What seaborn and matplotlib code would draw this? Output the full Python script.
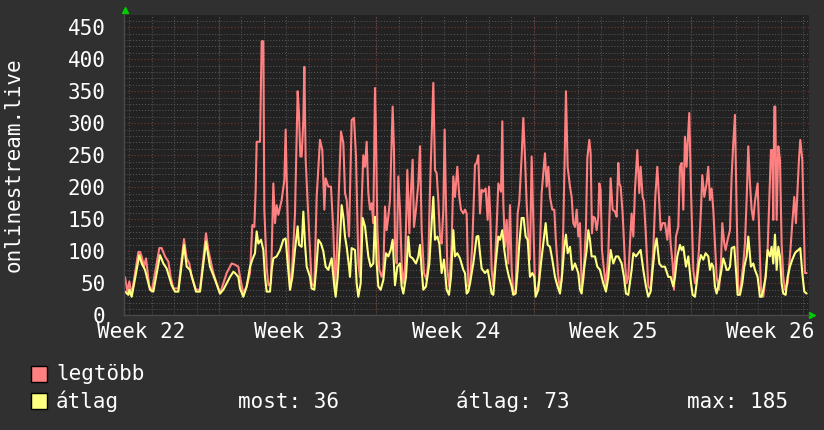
import matplotlib
matplotlib.use('Agg')
import matplotlib.pyplot as plt
import seaborn as sns
from matplotlib.patches import Rectangle
from matplotlib.ticker import MultipleLocator, FixedLocator

# napok (0 = bal szél), értékek
max_days = [0.067, 0.170, 0.259, 0.363, 0.660, 0.734, 0.808, 0.912, 1.001, 1.149, 1.253, 1.595, 1.698, 1.847, 1.995,
            2.099, 2.218, 2.440, 2.692, 2.811, 2.930, 3.034, 3.226, 3.404, 3.671, 3.775, 3.998, 4.146, 4.295, 4.591, 4.814,
            4.962, 5.110, 5.185, 5.333, 5.481, 5.630, 5.733, 5.822, 5.882, 5.926, 6.075, 6.149, 6.223, 6.267, 6.371,
            6.446, 6.564, 6.668, 6.742, 6.816, 6.891, 7.039, 7.158, 7.217, 7.261, 7.336, 7.410, 7.484, 7.632, 7.751,
            7.810, 7.870, 7.929, 8.003, 8.048, 8.107, 8.196, 8.300, 8.374, 8.493, 8.597, 8.745, 8.849, 8.938, 8.997,
            9.116, 9.234, 9.338, 9.413, 9.487, 9.591, 9.680, 9.784, 9.858, 9.932, 10.036,
            10.154, 10.258, 10.347, 10.451, 10.525, 10.599, 10.673, 10.748, 10.822, 10.896, 10.970, 11.044, 11.118,
            11.193, 11.237, 11.296, 11.385, 11.489, 11.564, 11.638, 11.712, 11.786, 11.860, 11.979, 12.038, 12.083,
            12.157, 12.231, 12.305, 12.379, 12.454, 12.528, 12.632, 12.721, 12.780, 12.869, 12.928, 13.017, 13.121,
            13.195, 13.270, 13.373, 13.492, 13.566, 13.640, 13.715, 13.789, 13.863, 13.937, 14.011, 14.085, 14.160,
            14.234, 14.293, 14.352, 14.412, 14.501, 14.605, 14.679, 14.753, 14.857, 14.946, 15.020, 15.124,
            15.198, 15.272, 15.346, 15.421, 15.524, 15.643, 15.717, 15.791, 15.866, 15.940, 16.014, 16.118, 16.207,
            16.266, 16.325, 16.385, 16.459, 16.533, 16.607, 16.682, 16.800, 16.860, 16.904, 16.978, 17.052, 17.127,
            17.201, 17.275, 17.349, 17.453, 17.542, 17.616, 17.720, 17.794, 17.868, 17.942, 18.017, 18.091, 18.165,
            18.239, 18.313, 18.388, 18.491, 18.610, 18.684, 18.758, 18.833, 18.907, 18.981, 19.085, 19.174, 19.233,
            19.352, 19.426, 19.500, 19.574, 19.649, 19.693, 19.767, 19.871, 19.945, 20.019, 20.094, 20.168, 20.242,
            20.316, 20.390, 20.464, 20.583, 20.642, 20.731, 20.791, 20.850, 20.909, 20.984, 21.058, 21.132, 21.176,
            21.236, 21.295, 21.384, 21.473, 21.577, 21.681, 21.770, 21.874, 21.948, 22.022, 22.067, 22.126, 22.215,
            22.319, 22.393, 22.467, 22.541, 22.615, 22.690, 22.764, 22.868, 22.957, 23.016, 23.105, 23.164, 23.253,
            23.357, 23.461, 23.580, 23.669, 23.758, 23.847, 23.906, 23.995, 24.099, 24.203, 24.292, 24.351, 24.440,
            24.499, 24.588, 24.692, 24.767, 24.841, 24.915, 24.989, 25.063, 25.108, 25.182, 25.256, 25.360,
            25.434, 25.508, 25.612, 25.701, 25.760, 25.849, 25.953, 26.027, 26.102, 26.176, 26.250, 26.324, 26.398,
            26.502, 26.591, 26.650, 26.739, 26.799, 26.888, 26.992, 27.066, 27.140, 27.214, 27.288, 27.363, 27.437,
            27.585, 27.659, 27.733, 27.808, 27.882, 27.956, 28.030, 28.104, 28.223, 28.282, 28.371, 28.475, 28.579,
            28.668, 28.727, 28.816, 28.876, 28.920, 28.965, 29.009, 29.069, 29.143, 29.217, 29.291, 29.365, 29.440,
            29.558, 29.662, 29.766, 29.855, 29.929, 30.004, 30.063, 30.122, 30.211, 30.270, 30.330, 30.404]
max_vals = [60, 37, 53, 32, 99, 99, 92, 76, 89, 45, 37, 105, 105, 92, 84,
            60, 42, 42, 119, 89, 81, 60, 40, 40, 128, 102, 66, 50, 34, 66, 81,
            79, 76, 60, 34, 45, 66, 141, 138, 196, 271, 271, 428, 428, 165, 76,
            47, 50, 206, 144, 172, 157, 180, 211, 290, 216, 112, 40, 60, 159, 350,
            315, 248, 248, 305, 388, 243, 175, 102, 50, 45, 185, 274, 258, 165, 214,
            201, 201, 133, 45, 92, 201, 287, 269, 191, 180, 123,
            305, 308, 248, 81, 60, 175, 250, 232, 271, 191, 165, 175, 144,
            355, 284, 138, 71, 60, 71, 170, 133, 154, 180, 326, 258, 112,
            81, 217, 165, 81, 50, 71, 227, 128, 185, 243, 138, 165, 206,
            264, 133, 66, 55, 87, 196, 279, 363, 227, 222, 180, 123, 112,
            165, 290, 175, 71, 45, 112, 217, 185, 232, 185, 165, 159,
            165, 159, 45, 50, 112, 235, 238, 250, 159, 196, 193, 198, 149,
            201, 154, 71, 45, 81, 138, 206, 193, 303, 175, 107, 149, 81,
            172, 71, 34, 40, 159, 178, 248, 308, 248, 175, 123, 87, 248,
            144, 45, 34, 55, 191, 222, 253, 201, 232, 185, 165, 165, 123,
            60, 40, 55, 138, 269, 350, 232, 201, 185, 144, 138, 165, 123,
            144, 45, 55, 138, 245, 274, 253, 128, 154, 152, 133, 154, 206,
            196, 102, 71, 45, 97, 214, 165, 162, 154, 238, 206, 201, 159,
            81, 50, 60, 112, 159, 123, 196, 258, 191, 232, 185, 178, 123,
            45, 40, 102, 185, 232, 175, 133, 144, 144, 118, 154, 112, 81,
            40, 123, 138, 232, 238, 165, 279, 232, 269, 316, 196, 71,
            50, 60, 102, 165, 219, 185, 206, 232, 180, 198, 165, 112, 60,
            40, 81, 144, 112, 102, 118, 133, 217, 269, 313, 165, 40, 34,
            81, 112, 180, 264, 206, 165, 149, 178, 206, 144, 40, 29, 60,
            102, 165, 258, 258, 149, 326, 326, 149, 264, 243, 112, 60, 40,
            50, 92, 144, 185, 144, 201, 243, 274, 243, 154, 66, 66]

avg_days = [0.067, 0.215, 0.259, 0.363, 0.704, 0.808, 0.957, 1.179, 1.328, 1.624, 1.773, 1.921, 2.144, 2.292,
            2.440, 2.692, 2.811, 2.959, 3.226, 3.404, 3.671, 3.849, 4.027, 4.295, 4.443, 4.740, 4.888,
            4.962, 5.110, 5.185, 5.333, 5.481, 5.630, 5.733, 5.852, 5.926, 6.000, 6.119, 6.223, 6.297, 6.371,
            6.520, 6.594, 6.668, 6.816, 6.965, 7.113, 7.217, 7.306, 7.410, 7.514, 7.632, 7.751, 7.810, 7.929,
            8.003, 8.077, 8.152, 8.300, 8.374, 8.493, 8.597, 8.671, 8.790, 8.893, 8.997, 9.116, 9.264, 9.383,
            9.442, 9.531, 9.635, 9.709, 9.784, 9.858, 9.932, 10.036,
            10.080, 10.154, 10.303, 10.377, 10.451, 10.555, 10.644, 10.748, 10.896, 11.000, 11.118, 11.193, 11.267,
            11.341, 11.445, 11.564, 11.682, 11.786, 11.890, 11.979, 12.083, 12.187, 12.305, 12.379, 12.454, 12.572,
            12.676, 12.750, 12.869, 13.017, 13.121, 13.195, 13.270, 13.344, 13.462, 13.611, 13.715, 13.789, 13.863,
            13.967, 14.056, 14.160, 14.264, 14.382, 14.486, 14.575, 14.679, 14.753, 14.857, 14.976, 15.124,
            15.198, 15.272, 15.346, 15.421, 15.569, 15.717, 15.791, 15.866, 15.940, 16.088, 16.207, 16.266, 16.385,
            16.459, 16.563, 16.682, 16.756, 16.860, 16.949, 17.052, 17.156, 17.275, 17.349, 17.453, 17.542, 17.616,
            17.720, 17.809, 17.898, 17.987, 18.091, 18.195, 18.283, 18.343, 18.461, 18.580, 18.684, 18.788, 18.877,
            18.981, 19.085, 19.204, 19.322, 19.426, 19.530, 19.619, 19.693, 19.767, 19.871, 19.975, 20.094, 20.242,
            20.316, 20.390, 20.494, 20.613, 20.687, 20.761, 20.835, 20.984, 21.087, 21.206, 21.354, 21.473, 21.577,
            21.681, 21.800, 21.918, 22.022, 22.170, 22.274, 22.363, 22.467, 22.615, 22.690, 22.808, 22.912, 23.016,
            23.135, 23.253, 23.357, 23.461, 23.550, 23.654, 23.728, 23.847, 23.951, 24.099, 24.247, 24.351, 24.470,
            24.544, 24.648, 24.767, 24.841, 24.915, 25.034, 25.138, 25.241, 25.330,
            25.434, 25.508, 25.612, 25.701, 25.805, 25.909, 26.027, 26.102, 26.176, 26.250, 26.324, 26.398, 26.502,
            26.591, 26.695, 26.769, 26.843, 26.917, 26.992, 27.066, 27.184, 27.259, 27.333, 27.437, 27.541, 27.630,
            27.733, 27.808, 27.926, 28.030, 28.104, 28.223, 28.327, 28.401, 28.475, 28.579, 28.668, 28.772, 28.846,
            28.920, 28.995, 29.069, 29.143, 29.217, 29.291, 29.365, 29.469, 29.558, 29.662, 29.766, 29.885, 29.959,
            30.033, 30.122, 30.211, 30.300, 30.404]
avg_vals = [37, 32, 40, 29, 94, 81, 71, 40, 37, 94, 81, 73, 47, 37,
            37, 110, 76, 71, 37, 37, 115, 76, 60, 34, 40, 60, 68,
            66, 60, 42, 29, 45, 76, 87, 97, 131, 112, 118, 102, 60, 37,
            37, 71, 89, 92, 102, 118, 120, 81, 40, 60, 102, 139, 110, 107,
            162, 112, 76, 60, 42, 40, 81, 118, 112, 100, 76, 71, 89, 45,
            29, 60, 118, 172, 154, 123, 107, 76,
            60, 105, 102, 50, 29, 50, 152, 139, 92, 76, 81, 154, 81,
            45, 40, 55, 97, 92, 102, 118, 47, 76, 81, 45, 34, 60,
            123, 92, 89, 81, 92, 110, 71, 40, 45, 81, 144, 185, 118,
            123, 112, 66, 87, 40, 32, 60, 133, 92, 97, 89, 71,
            66, 34, 37, 50, 81, 123, 124, 97, 73, 66, 71, 60, 34,
            32, 81, 123, 118, 133, 102, 76, 60, 45, 32, 34, 71, 112,
            152, 152, 123, 118, 60, 66, 60, 29, 40, 81, 112, 144, 110,
            107, 87, 60, 45, 34, 66, 107, 126, 97, 107, 71, 81, 66,
            40, 34, 71, 102, 133, 118, 92, 92, 76, 71, 50, 37, 60,
            102, 81, 92, 92, 81, 60, 34, 32, 71, 97, 92, 97, 102,
            71, 45, 29, 37, 71, 107, 120, 81, 76, 76, 60, 60, 45,
            60, 92, 110, 102, 107, 76, 92, 55, 32,
            29, 50, 81, 94, 87, 97, 92, 71, 81, 76, 45, 34, 50,
            66, 89, 81, 71, 71, 76, 105, 107, 71, 32, 32, 50, 76,
            92, 123, 76, 81, 71, 60, 29, 29, 40, 60, 102, 92, 107,
            81, 126, 71, 107, 92, 50, 34, 32, 60, 76, 87, 97, 100,
            102, 105, 66, 37, 34]

week_pos = [0.79, 7.79, 14.79, 21.79, 28.79]
week_labels = ['Week 22', 'Week 23', 'Week 24', 'Week 25', 'Week 26']
series_names = ['legtöbb', 'átlag']
avg_stats = ['most: 36', 'átlag: 73', 'max: 185']

BG = '#303030'
CANVAS = '#222222'
PINK = '#ff8080'
YELLOW = '#ffff80'
MINOR = '#5a5a5a'
MAJOR = '#7a3434'

sns.set_style('dark')
plt.rcParams['font.family'] = ['DejaVu Sans Mono', 'DejaVu Sans']

fig = plt.figure(figsize=(8.24, 4.30), dpi=100, facecolor=BG)
ax = fig.add_axes([0.1499, 0.2667, 0.8319, 0.6984])
ax.set_facecolor(CANVAS)

# rács: szürke pontozott napi/10-es, piros heti/50-es
ax.yaxis.set_major_locator(MultipleLocator(50))
ax.yaxis.set_minor_locator(MultipleLocator(10))
ax.xaxis.set_major_locator(FixedLocator(week_pos))
ax.xaxis.set_minor_locator(FixedLocator([0.25 + k for k in range(31)]))
ax.set_axisbelow(True)
ax.yaxis.grid(True, which='minor', color=MINOR, linestyle=(0, (1, 2)), linewidth=0.7)
ax.yaxis.grid(True, which='major', color=MAJOR, linestyle=(0, (1, 2)), linewidth=0.8)
ax.xaxis.grid(False, which='major')
ax.xaxis.grid(True, which='minor', color=MINOR, linestyle=(0, (1, 2)), linewidth=0.7)
for k in range(4):
    ax.axvline(4.25 + 7 * k, color=MAJOR, linestyle=(0, (1, 2)), linewidth=0.8, zorder=1)

sns.lineplot(x=max_days, y=max_vals, ax=ax, color=PINK, linewidth=1.5, errorbar=None)
sns.lineplot(x=avg_days, y=avg_vals, ax=ax, color=YELLOW, linewidth=1.5, errorbar=None)

ax.set_xlim(0, 30.51)
ax.set_ylim(0, 469)
ax.set_xticklabels(week_labels)
ax.set_xlabel('')
ax.set_ylabel('')
ax.tick_params(axis='y', which='both', length=0, pad=13, labelsize=15, labelcolor='white')
ax.tick_params(axis='x', which='major', length=0, pad=5, labelsize=15, labelcolor='white')
ax.tick_params(axis='x', which='minor', length=3, direction='inout', color='#777777')
for side in ['top', 'right']:
    ax.spines[side].set_visible(False)
for side in ['left', 'bottom']:
    ax.spines[side].set_color('#4a4a4a')
    ax.spines[side].set_linewidth(1)

# zöld nyilak a tengelyek végén
ax.plot([0.002], [1.017], marker='^', color='#00cc00', markersize=5, transform=ax.transAxes, clip_on=False)
ax.plot([1.0044], [0.0], marker='>', color='#00cc00', markersize=5, transform=ax.transAxes, clip_on=False)

fig.text(14 / 824, 1 - 165 / 430, 'onlinestream.live', rotation=90, ha='center', va='center',
         fontsize=15, color='white')

# jelmagyarázat
colors = [PINK, YELLOW]
rows_y = [380.5, 408]
for name, col, yb in zip(series_names, colors, rows_y):
    fig.patches.append(Rectangle((31 / 824, 1 - (yb + 1) / 430), 16 / 824, 16 / 430, transform=fig.transFigure,
                                 facecolor=col, edgecolor='black', linewidth=1))
    fig.text(56 / 824, 1 - yb / 430, name, ha='left', va='baseline', fontsize=15, color='white')
for txt, xp in zip(avg_stats, [238, 456, 687]):
    fig.text(xp / 824, 1 - 408 / 430, txt, ha='left', va='baseline', fontsize=15, color='white')

fig.savefig('out.png', dpi=100, facecolor=BG)
